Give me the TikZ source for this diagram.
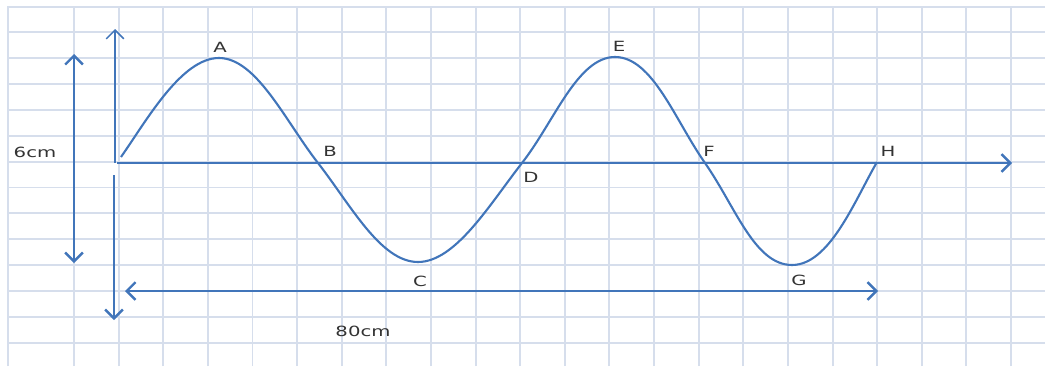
\documentclass[tikz,border=0pt]{standalone}
\usepackage{fontspec}
\usepackage{tikz}
\usetikzlibrary{arrows.meta}
\usepackage{xcolor}
\newfontfamily\waveFont[FakeStretch=1.4]{DejaVu Sans}
\definecolor{waveBlue}{HTML}{4175BA}
\definecolor{waveGrid}{HTML}{D6DEEC}
\definecolor{waveText}{HTML}{333333}

\begin{document}
\begin{tikzpicture}[
        x=0.02cm, y=0.02cm,
        gridLine/.style={draw=waveGrid, line width=1.1pt},
        axis/.style={draw=waveBlue, line width=1.4pt, -{Straight Barb[length=5pt, width=10pt]}},
        thinAxis/.style={axis, line width=0.9pt},
        dimArrow/.style={axis, {Straight Barb[length=5pt, width=10pt]}-{Straight Barb[length=5pt, width=10pt]}},
        wave/.style={draw=waveBlue, line width=1.2pt},
        peakToZero/.style={out distance=0.75cm, in distance=1.05cm},
        zeroToPeak/.style={out distance=1.05cm, in distance=0.75cm},
        lbl/.style={text=waveText, font=\waveFont\fontsize{8}{9}\selectfont, inner sep=1pt}
      ]
      \useasboundingbox (0,0) rectangle (1045,366);

      % --- GRID PAPER ---
      \begin{scope}
        \clip (0,0) rectangle (1045,366);
        \draw[gridLine] (8,0) -- (8,359) -- (1045,359);
        \foreach \i in {0,...,21}
          \draw[gridLine] ({74+44.62*\i},0) -- ({74+44.62*\i},359);
        \foreach \j in {0,...,12}
          \draw[gridLine] (8,{334-25.92*\j}) -- (1045,{334-25.92*\j});
      \end{scope}

      % --- AXES ---
      \coordinate (origin) at (117,203);
      \coordinate (xEnd) at (1012,203);
      \coordinate (yOrigin) at (115,203);
      \coordinate (yTop) at (115,337);
      \coordinate (yGap) at (114,191);
      \coordinate (yBottom) at (114,46);

      \draw[axis] (origin) -- (xEnd);
      \draw[thinAxis] (yOrigin) -- (yTop);
      \draw[axis] (yGap) -- (yBottom);

      % --- WAVE ---
      \coordinate (start) at (121,209);
      \coordinate (ptA) at (219,308);
      \coordinate (ptB) at (318,203);
      \coordinate (ptC) at (418,104);
      \coordinate (ptD) at (522,203);
      \coordinate (ptE) at (615,309);
      \coordinate (ptF) at (705,203);
      \coordinate (ptG) at (792,101);
      \coordinate (ptH) at (877,204);

      \draw[wave] (start) to[out=55, in=180, out distance=0.9cm, in distance=0.75cm] (ptA)
        to[out=0, in=128, peakToZero] (ptB) to[out=-52, in=180, zeroToPeak] (ptC)
        to[out=0, in=232, peakToZero] (ptD) to[out=52, in=180, zeroToPeak] (ptE)
        to[out=0, in=125, peakToZero] (ptF) to[out=-55, in=180, zeroToPeak] (ptG)
        to[out=0, in=240, out distance=0.75cm, in distance=0.9cm] (ptH);

      \node[lbl] (labA) at (220,319) {A};
      \node[lbl] (labB) at (330,215) {B};
      \node[lbl] (labC) at (420,85) {C};
      \node[lbl] (labD) at (531,189) {D};
      \node[lbl] (labE) at (619,320) {E};
      \node[lbl] (labF) at (709,215) {F};
      \node[lbl] (labG) at (799,86) {G};
      \node[lbl] (labH) at (888,215) {H};

      % --- DIMENSIONS ---
      \coordinate (ampTop) at (74,312);
      \coordinate (ampBottom) at (74,103);
      \coordinate (lenLeft) at (125,75);
      \coordinate (lenRight) at (878,75);

      \draw[dimArrow] (ampBottom) -- (ampTop);
      \draw[dimArrow] (lenLeft) -- (lenRight);

      \node[lbl] (amp) at (35,214) {6cm};
      \node[lbl] (len) at (363,35) {80cm};

    \end{tikzpicture}
\end{document}
